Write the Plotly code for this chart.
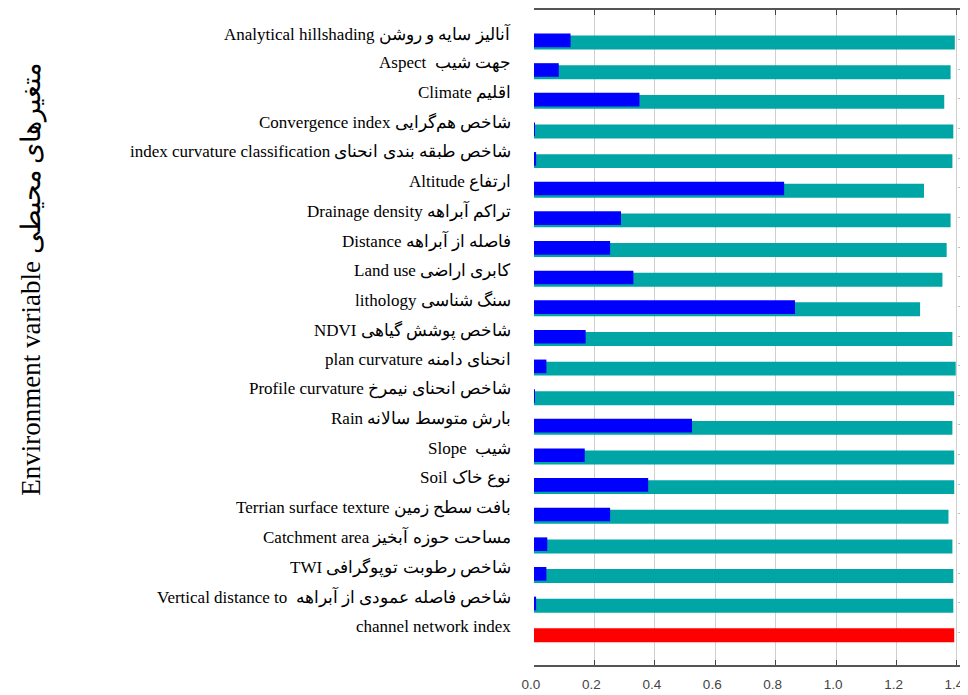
import plotly.graph_objects as go

# ---- data ----
categories = [
    "Analytical hillshading", "Aspect", "Climate", "Convergence index",
    "index curvature classification", "Altitude", "Drainage density", "Distance",
    "Land use", "lithology", "NDVI", "plan curvature", "Profile curvature",
    "Rain", "Slope", "Soil", "Terrian surface texture", "Catchment area", "TWI",
    "Vertical distance to channel network index", "All variables",
]
labels = [
    "Analytical hillshading آنالیز سایه و روشن",
    "Aspect  جهت شیب",
    "Climate اقلیم",
    "Convergence index شاخص هم‌گرایی",
    "index curvature classification شاخص طبقه بندی انحنای",
    "Altitude ارتفاع",
    "Drainage density تراکم آبراهه",
    "Distance فاصله از آبراهه",
    "Land use کابری اراضی",
    "lithology سنگ شناسی",
    "NDVI شاخص پوشش گیاهی",
    "plan curvature انحنای دامنه",
    "Profile curvature شاخص انحنای نیمرخ",
    "Rain بارش متوسط سالانه",
    "Slope  شیب",
    "Soil نوع خاک",
    "Terrian surface texture بافت سطح زمین",
    "Catchment area مساحت حوزه آبخیز",
    "TWI شاخص رطوبت توپوگرافی",
    "Vertical distance to  شاخص فاصله عمودی از آبراهه",
    "channel network index",
]
without_variable = [1.393, 1.379, 1.358, 1.388, 1.385, 1.291, 1.379, 1.366, 1.352, 1.278,
                    1.385, 1.396, 1.391, 1.385, 1.391, 1.391, 1.372, 1.385, 1.388, 1.388]
with_only_variable = [0.121, 0.082, 0.349, 0.002, 0.007, 0.828, 0.288, 0.252, 0.329, 0.864,
                      0.171, 0.041, 0.002, 0.523, 0.168, 0.378, 0.252, 0.044, 0.041, 0.007]
with_all_variables = [1.391]
x_ticks = [0.0, 0.2, 0.4, 0.6, 0.8, 1.0, 1.2, 1.4]
y_title = "Environment variable متغیرهای محیطی"

var_cats = categories[:20]
all_cat = categories[20:]

TEAL = "#00A6A6"
BLUE = "#0000FF"
RED = "#FF0000"

fig = go.Figure()
fig.add_trace(go.Bar(y=var_cats, x=without_variable, orientation="h",
                     marker=dict(color=TEAL, line=dict(width=0)),
                     width=0.47, offset=-0.136, name="Without variable"))
fig.add_trace(go.Bar(y=all_cat, x=with_all_variables, orientation="h",
                     marker=dict(color=RED, line=dict(width=0)),
                     width=0.47, offset=-0.136, name="With all variables"))
fig.add_trace(go.Bar(y=var_cats, x=with_only_variable, orientation="h",
                     marker=dict(color=BLUE, line=dict(width=0)),
                     width=0.46, offset=-0.206, name="With only variable",
                     yaxis="y2"))

yrange = [21.1, -1.0]

for cat, lab in zip(categories, labels):
    fig.add_annotation(x=0, xref="paper", y=cat, yref="y", text=lab,
                       showarrow=False, xanchor="right", yanchor="middle",
                       xshift=-21, yshift=6,
                       font=dict(family="Liberation Serif, Times New Roman, serif",
                                 size=17, color="#000000"))

fig.add_annotation(x=-1.157, xref="paper", y=0.256, yref="paper", text=y_title,
                   textangle=-90, showarrow=False, xanchor="center", yanchor="bottom",
                   font=dict(family="Liberation Serif, Times New Roman, serif",
                             size=27, color="#000000"))

fig.update_layout(
    width=968, height=687,
    margin=dict(l=526, r=8, t=0, b=30),
    paper_bgcolor="white", plot_bgcolor="white",
    barmode="overlay", showlegend=False,
    xaxis=dict(range=[0, 1.4366], tickvals=x_ticks,
               ticktext=[f"{v:.1f}" for v in x_ticks],
               showgrid=True, gridcolor="#cfcfcf", gridwidth=1,
               zeroline=False, showline=True, linecolor="#555555", linewidth=1.5,
               mirror="ticks", ticks="inside", ticklen=5, tickcolor="#444444",
               ticklabelstandoff=6, ticklabelshift=-3, ticklabeloverflow="allow",
               tickfont=dict(family="Liberation Sans, Arial, sans-serif",
                             size=13.5, color="#444444")),
    yaxis=dict(type="category", categoryorder="array", categoryarray=categories,
               range=yrange, autorange=False, showticklabels=False, showgrid=False,
               zeroline=False, showline=False, ticks=""),
    yaxis2=dict(type="category", categoryorder="array", categoryarray=categories,
                range=yrange, autorange=False, overlaying="y", anchor="free",
                position=0.9745, side="right", showticklabels=False, showgrid=False,
                zeroline=False, showline=False, ticks="outside", ticklen=11,
                tickcolor="#bdbdbd", tickwidth=1),
)

fig.write_html("out.html")
